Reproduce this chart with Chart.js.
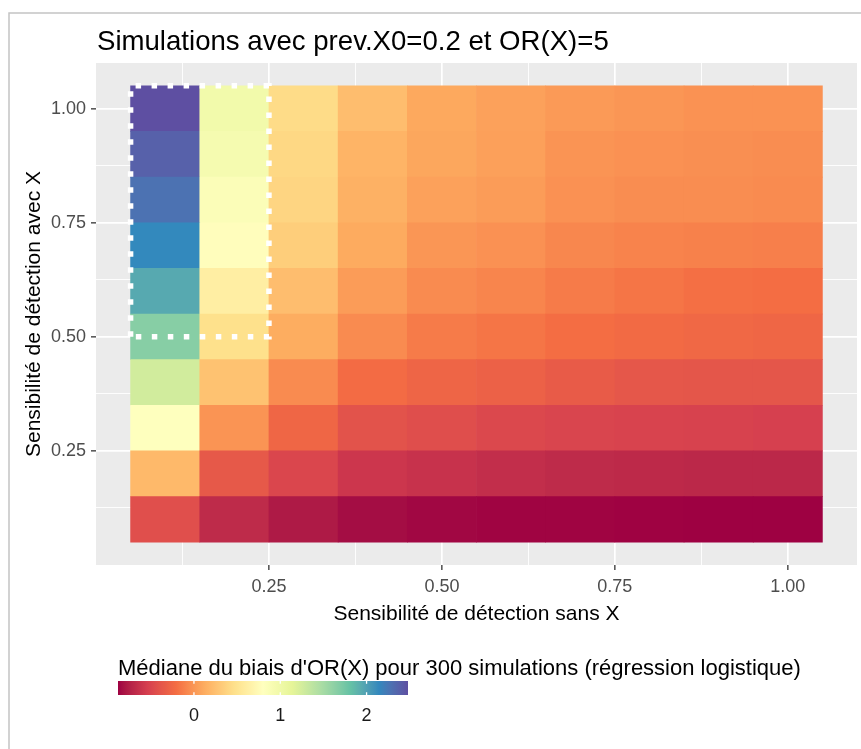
<!DOCTYPE html>
<html>
<head>
<meta charset="utf-8">
<script src="https://cdn.jsdelivr.net/npm/chart.js@4.4.1/dist/chart.umd.min.js"></script>
<style>
  html, body { margin: 0; padding: 0; background: #ffffff; }
  #wrap { width: 861px; height: 749px; position: relative; }
</style>
</head>
<body>
<div id="wrap"><canvas id="c" width="861" height="749"></canvas></div>
<script>
// ---------------- DATA ----------------
const chartTitle = 'Simulations avec prev.X0=0.2 et OR(X)=5';
const xTitle = 'Sensibilité de détection sans X';
const yTitle = 'Sensibilité de détection avec X';
const legendTitle = "Médiane du biais d'OR(X) pour 300 simulations (régression logistique)";

const xCategories = [0.1, 0.2, 0.3, 0.4, 0.5, 0.6, 0.7, 0.8, 0.9, 1.0];
const yCategories = [0.1, 0.2, 0.3, 0.4, 0.5, 0.6, 0.7, 0.8, 0.9, 1.0];

// median bias per row (sensibilité avec X), across columns (sensibilité sans X 0.1 .. 1.0)
const biasY010 = [-0.43, -0.68, -0.78, -0.84, -0.86, -0.87, -0.87, -0.875, -0.88, -0.88];
const biasY020 = [0.20, -0.36, -0.49, -0.60, -0.63, -0.66, -0.68, -0.69, -0.70, -0.70];
const biasY030 = [0.81, -0.01, -0.26, -0.40, -0.44, -0.48, -0.50, -0.51, -0.52, -0.53];
const biasY040 = [1.26, 0.26, -0.06, -0.22, -0.27, -0.30, -0.34, -0.37, -0.38, -0.38];
const biasY050 = [1.66, 0.47, 0.12, -0.06, -0.14, -0.17, -0.21, -0.23, -0.25, -0.26];
const biasY060 = [1.95, 0.62, 0.23, 0.03, -0.06, -0.09, -0.14, -0.17, -0.20, -0.21];
const biasY070 = [2.14, 0.78, 0.34, 0.11, 0.00, -0.03, -0.08, -0.10, -0.11, -0.12];
const biasY080 = [2.28, 0.86, 0.39, 0.15, 0.06, 0.03, -0.03, -0.05, -0.05, -0.06];
const biasY090 = [2.38, 0.93, 0.41, 0.17, 0.09, 0.05, -0.01, -0.03, -0.04, -0.05];
const biasY100 = [2.48, 0.97, 0.44, 0.23, 0.10, 0.06, 0.02, 0.00, -0.02, -0.02];
const biasRows = [biasY010, biasY020, biasY030, biasY040, biasY050, biasY060, biasY070, biasY080, biasY090, biasY100];

const majorTicks = [0.25, 0.5, 0.75, 1.0];
const minorTicks = [0.125, 0.375, 0.625, 0.875];
const legendTicks = [0, 1, 2];

// dotted highlight region
const highlightX = [0.05, 0.05, 0.25, 0.25, 0.05];
const highlightY = [0.5, 1.05, 1.05, 0.5, 0.5];

const spectral = ['#9E0142', '#D53E4F', '#F46D43', '#FDAE61', '#FEE08B', '#FFFFBF',
                  '#E6F598', '#ABDDA4', '#66C2A5', '#3288BD', '#5E4FA2'];

// ---------------- COLOUR SCALE (Lab interpolation like ggplot) ----------------
function hexToRgb(h) { return [parseInt(h.slice(1,3),16), parseInt(h.slice(3,5),16), parseInt(h.slice(5,7),16)]; }
function toLin(c) { c /= 255; return c <= 0.04045 ? c / 12.92 : Math.pow((c + 0.055) / 1.055, 2.4); }
function fromLin(c) { const v = c <= 0.0031308 ? 12.92 * c : 1.055 * Math.pow(c, 1/2.4) - 0.055; return Math.max(0, Math.min(255, Math.round(v * 255))); }
const Xn = 0.95047, Yn = 1.0, Zn = 1.08883;
function fLab(t) { return t > 0.008856 ? Math.cbrt(t) : 7.787 * t + 16/116; }
function fInv(t) { return t > 0.206893 ? t*t*t : (t - 16/116) / 7.787; }
function rgbToLab(rgb) {
  const r = toLin(rgb[0]), g = toLin(rgb[1]), b = toLin(rgb[2]);
  const X = 0.4124564*r + 0.3575761*g + 0.1804375*b;
  const Y = 0.2126729*r + 0.7151522*g + 0.0721750*b;
  const Z = 0.0193339*r + 0.1191920*g + 0.9503041*b;
  const fx = fLab(X/Xn), fy = fLab(Y/Yn), fz = fLab(Z/Zn);
  return [116*fy - 16, 500*(fx - fy), 200*(fy - fz)];
}
function labToRgb(lab) {
  const fy = (lab[0] + 16) / 116, fx = fy + lab[1] / 500, fz = fy - lab[2] / 200;
  const X = Xn * fInv(fx), Y = Yn * fInv(fy), Z = Zn * fInv(fz);
  const r =  3.2404542*X - 1.5371385*Y - 0.4985314*Z;
  const g = -0.9692660*X + 1.8760108*Y + 0.0415560*Z;
  const b =  0.0556434*X - 0.2040259*Y + 1.0572252*Z;
  return [fromLin(r), fromLin(g), fromLin(b)];
}
const spectralLab = spectral.map(h => rgbToLab(hexToRgb(h)));
const allValues = biasRows.flat();
const vMin = Math.min(...allValues);
const vMax = Math.max(...allValues);
function colorFor(v) {
  let t = (v - vMin) / (vMax - vMin);
  t = Math.max(0, Math.min(1, t));
  const pos = t * (spectralLab.length - 1);
  const i = Math.min(Math.floor(pos), spectralLab.length - 2);
  const f = pos - i;
  const a = spectralLab[i], b = spectralLab[i + 1];
  const rgb = labToRgb([a[0] + (b[0]-a[0])*f, a[1] + (b[1]-a[1])*f, a[2] + (b[2]-a[2])*f]);
  return 'rgb(' + rgb[0] + ',' + rgb[1] + ',' + rgb[2] + ')';
}

// ---------------- DATASETS ----------------
const halfH = (yCategories[1] - yCategories[0]) / 2;

const tileDatasets = yCategories.map((y, r) => ({
  type: 'bar',
  label: 'y=' + y,
  data: xCategories.map(x => ({ x: x, y: [y - halfH, y + halfH] })),
  backgroundColor: biasRows[r].map(colorFor),
  borderWidth: 0,
  barPercentage: 1,
  categoryPercentage: 1,
  grouped: false,
  order: 1
}));

const highlightDataset = {
  type: 'line',
  label: 'zone',
  data: highlightX.map((x, i) => ({ x: x, y: highlightY[i] })),
  borderColor: '#FFFFFF',
  borderWidth: 5.5,
  borderDash: [5.5, 10.5],
  borderCapStyle: 'butt',
  borderJoinStyle: 'miter',
  pointRadius: 0,
  fill: false,
  tension: 0,
  order: 0
};

// ---------------- STYLE HELPERS ----------------
const FONT = '"Liberation Sans", Arial, "DejaVu Sans", sans-serif';
const allTicks = majorTicks.concat(minorTicks).sort((a, b) => a - b);
function isMajor(v) { return majorTicks.some(m => Math.abs(m - v) < 1e-9); }
function setTicks(scale) { scale.ticks = allTicks.map(v => ({ value: v })); }
function gridColor(ctx) { return '#FFFFFF'; }
function gridWidth(ctx) { return ctx.tick && isMajor(ctx.tick.value) ? 1.7 : 0.9; }
function tickColor(ctx) { return ctx.tick && isMajor(ctx.tick.value) ? '#333333' : 'rgba(0,0,0,0)'; }
function tickLabel(v) { return isMajor(v) ? v.toFixed(2) : ''; }

// ---------------- PLUGINS ----------------
const backgroundPlugin = {
  id: 'bg',
  beforeDraw(chart) {
    const { ctx, chartArea: a } = chart;
    ctx.save();
    ctx.fillStyle = '#FFFFFF';
    ctx.fillRect(0, 0, chart.width, chart.height);
    // frame
    ctx.strokeStyle = '#C4C4C4';
    ctx.lineWidth = 1.5;
    ctx.beginPath();
    ctx.moveTo(9, chart.height);
    ctx.lineTo(9, 13);
    ctx.lineTo(chart.width, 13);
    ctx.stroke();
    // panel
    ctx.fillStyle = '#EBEBEB';
    ctx.fillRect(a.left, a.top, a.right - a.left, a.bottom - a.top);
    ctx.restore();
  }
};

const decorPlugin = {
  id: 'decor',
  afterDraw(chart) {
    const ctx = chart.ctx;
    ctx.save();
    // title
    ctx.fillStyle = '#000000';
    ctx.font = '27.6px ' + FONT;
    ctx.textAlign = 'left';
    ctx.textBaseline = 'alphabetic';
    ctx.fillText(chartTitle, 97, 50);

    // legend title
    ctx.font = '22px ' + FONT;
    ctx.fillText(legendTitle, 118, 675);

    // colour bar
    const bx = 118, bw = 290, by = 681, bh = 14;
    const grad = ctx.createLinearGradient(bx, 0, bx + bw, 0);
    const nStops = 80;
    for (let i = 0; i <= nStops; i++) {
      const t = i / nStops;
      grad.addColorStop(t, colorFor(vMin + t * (vMax - vMin)));
    }
    ctx.fillStyle = grad;
    ctx.fillRect(bx, by, bw, bh);

    ctx.strokeStyle = '#FFFFFF';
    ctx.lineWidth = 1.3;
    ctx.fillStyle = '#1A1A1A';
    ctx.font = '18px ' + FONT;
    ctx.textAlign = 'center';
    legendTicks.forEach(v => {
      const px = bx + (v - vMin) / (vMax - vMin) * bw;
      ctx.beginPath();
      ctx.moveTo(px, by); ctx.lineTo(px, by + bh / 5);
      ctx.moveTo(px, by + bh); ctx.lineTo(px, by + bh - bh / 5);
      ctx.stroke();
      ctx.fillText(String(v), px, 721);
    });
    ctx.restore();
  }
};

// ---------------- CHART ----------------
const axisCommon = {
  type: 'linear',
  min: 0,
  max: 1.1,
  offset: false,
  afterBuildTicks: setTicks,
  border: { display: false },
  grid: {
    offset: false,
    drawOnChartArea: true,
    drawTicks: true,
    color: gridColor,
    lineWidth: gridWidth,
    tickColor: tickColor,
    tickLength: 5,
    tickWidth: 1.3
  }
};

new Chart(document.getElementById('c').getContext('2d'), {
  type: 'bar',
  data: { datasets: [highlightDataset].concat(tileDatasets) },
  options: {
    responsive: false,
    animation: false,
    events: [],
    layout: { padding: { left: 10, right: 4, top: 63, bottom: 119 } },
    plugins: {
      legend: { display: false },
      tooltip: { enabled: false },
      title: { display: false }
    },
    scales: {
      x: Object.assign({}, axisCommon, {
        position: 'bottom',
        afterFit(scale) { scale.height = 65; },
        ticks: {
          autoSkip: false, maxRotation: 0, minRotation: 0, padding: 6,
          color: '#4D4D4D', font: { family: FONT, size: 18 },
          callback: tickLabel
        },
        title: {
          display: true, text: xTitle, color: '#000000',
          font: { family: FONT, size: 21 },
          padding: { top: 0, bottom: 3.4 }
        }
      }),
      y: Object.assign({}, axisCommon, {
        position: 'left',
        afterFit(scale) { scale.width = 86; },
        ticks: {
          autoSkip: false, padding: 5,
          color: '#4D4D4D', font: { family: FONT, size: 18 },
          callback: tickLabel
        },
        title: {
          display: true, text: yTitle, color: '#000000',
          font: { family: FONT, size: 21 },
          padding: { top: 11.4, bottom: 0 }
        }
      })
    }
  },
  plugins: [backgroundPlugin, decorPlugin]
});
</script>
</body>
</html>
